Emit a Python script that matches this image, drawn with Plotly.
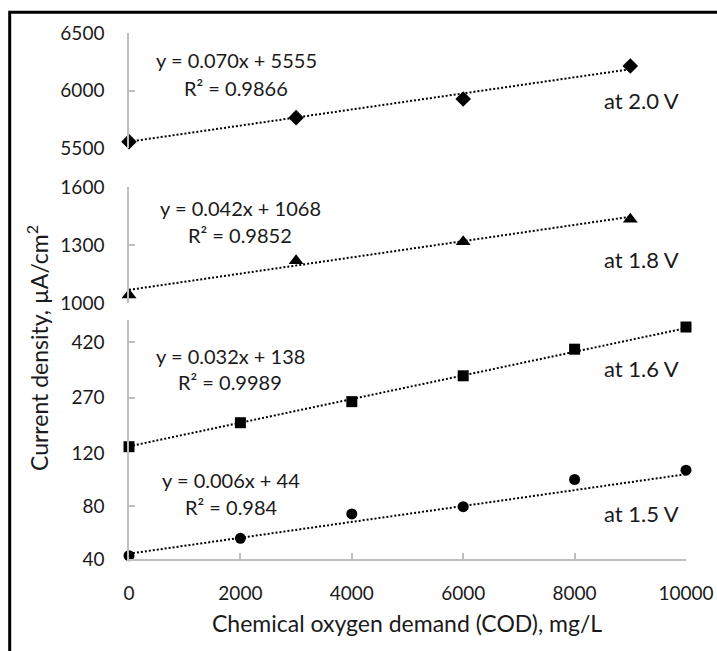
import plotly.graph_objects as go

# COD concentrations (mg/L) and current densities (µA/cm²) at each cell voltage
cod_fine = [0, 2000, 4000, 6000, 8000, 10000]
cod_coarse = [0, 3000, 6000, 9000]

j_15 = [42.5, 55.6, 74, 79.5, 100, 107]
j_16 = [137, 202, 259, 329, 401, 461]
j_18 = [1042, 1219, 1317, 1433]
j_20 = [5555, 5764, 5926, 6213]

# Linear fit coefficients (slope, intercept) and R² for each voltage
fit_15 = (0.006, 44, "0.984")
fit_16 = (0.032, 138, "0.9989")
fit_18 = (0.042, 1068, "0.9852")
fit_20 = (0.070, 5555, "0.9866")

voltages = ["1.5", "1.6", "1.8", "2.0"]
x_ticks = [0, 2000, 4000, 6000, 8000, 10000]
x_tick_text = ["0", "2000", "4000", "6000", "8000", "10000"]

FONT = "Lato"
AXIS_GREY = "#bfbfbf"
TEXT = "#1a1a1a"

# figure pixel geometry of the plotting area
L, R, T, B = 129, 31, 33, 92
W, H = 717, 651
PW, PH = W - L - R, H - T - B


def px(xp):
    return (xp - L) / PW


def py(yp):
    return (H - B - yp) / PH


panels = [
    # (x values, y values, fit, marker symbol, axis id, domain pixels, range, ticks)
    (cod_fine, j_15, fit_15, "circle", "y", (559, 453), [40, 120], [40, 80, 120]),
    (cod_fine, j_16, fit_16, "square", "y2", (453, 320), [120, 480], [270, 420]),
    (cod_coarse, j_18, fit_18, "triangle-up", "y3", (303, 187), [1000, 1600], [1000, 1300, 1600]),
    (cod_coarse, j_20, fit_20, "diamond", "y4", (148, 33), [5500, 6500], [5500, 6000, 6500]),
]
marker_sizes = {"circle": 11, "square": 11, "triangle-up": 13, "diamond": 12}

fig = go.Figure()
layout_axes = {}
for xs, ys, (slope, icpt, r2), sym, yid, (ybot, ytop), yrange, yticks in panels:
    xmax = max(xs)
    fig.add_trace(go.Scatter(
        x=[0, xmax], y=[icpt, slope * xmax + icpt], yaxis=yid, mode="lines",
        line=dict(color="black", width=2, dash="2px,2px"), hoverinfo="skip",
        showlegend=False, cliponaxis=False))
    fig.add_trace(go.Scatter(
        x=xs, y=ys, yaxis=yid, mode="markers",
        marker=dict(symbol=sym, size=marker_sizes[sym], color="black"),
        showlegend=False, cliponaxis=False))
    key = "yaxis" if yid == "y" else "yaxis" + yid[1:]
    ax = dict(
        domain=[py(ybot), py(ytop)], range=yrange, tickvals=yticks,
        showline=True, linecolor=AXIS_GREY, linewidth=1.5,
        ticks="inside", tickcolor=AXIS_GREY, ticklen=6, tickwidth=1.5,
        showgrid=False, zeroline=False, anchor="x", automargin=False,
        tickfont=dict(family=FONT, size=19, color=TEXT), ticklabelstandoff=19,
    )
    layout_axes[key] = ax

fig.update_layout(**layout_axes)

fig.update_layout(
    width=W, height=H,
    margin=dict(l=L, r=R, t=T, b=B),
    paper_bgcolor="white", plot_bgcolor="white",
    xaxis=dict(
        range=[0, 10000], tickvals=x_ticks, ticktext=x_tick_text, showline=True,
        linecolor=AXIS_GREY, linewidth=1.5, ticks="inside", tickcolor=AXIS_GREY,
        ticklen=6, tickwidth=1.5, showgrid=False, zeroline=False, anchor="y",
        automargin=False,
        tickfont=dict(family=FONT, size=19, color=TEXT), ticklabelstandoff=16,
    ),
    font=dict(family=FONT, color=TEXT),
)

# equation / R² boxes and voltage labels, placed in figure pixels
label_spots = {
    "2.0": (236, 60, 88, 100),
    "1.8": (240, 208, 235, 259),
    "1.6": (230, 356, 382, 368),
    "1.5": (231, 480, 507, 513),
}
fits = {"1.5": fit_15, "1.6": fit_16, "1.8": fit_18, "2.0": fit_20}
for v in voltages:
    slope, icpt, r2 = fits[v]
    cx, y_eq, y_r2, y_lab = label_spots[v]
    fig.add_annotation(text=f"y = {slope:.3f}x + {icpt}", x=px(cx), y=py(y_eq),
                       xref="paper", yref="paper", showarrow=False,
                       font=dict(size=20), xanchor="center", yanchor="middle")
    fig.add_annotation(text=f"R² = {r2}", x=px(cx), y=py(y_r2),
                       xref="paper", yref="paper", showarrow=False,
                       font=dict(size=20), xanchor="center", yanchor="middle")
    fig.add_annotation(text=f"at {v} V", x=px(602), y=py(y_lab),
                       xref="paper", yref="paper", showarrow=False,
                       font=dict(size=22), xanchor="left", yanchor="middle")

# axis titles
fig.add_annotation(text="Chemical oxygen demand (COD), mg/L", x=px(407), y=py(623),
                   xref="paper", yref="paper", showarrow=False,
                   font=dict(size=23), xanchor="center", yanchor="middle")
fig.add_annotation(text="Current density, µA/cm<sup>2</sup>", x=px(37), y=py(348),
                   xref="paper", yref="paper", showarrow=False, textangle=-90,
                   font=dict(size=23), xanchor="center", yanchor="middle")

# chart frame (only its top and left edges fall inside the page)
fig.add_shape(type="rect", xref="paper", yref="paper",
              x0=px(9.7), x1=px(W + 20), y0=py(H + 20), y1=py(12.2),
              line=dict(color="black", width=3), layer="above")

fig.write_html("out.html")
